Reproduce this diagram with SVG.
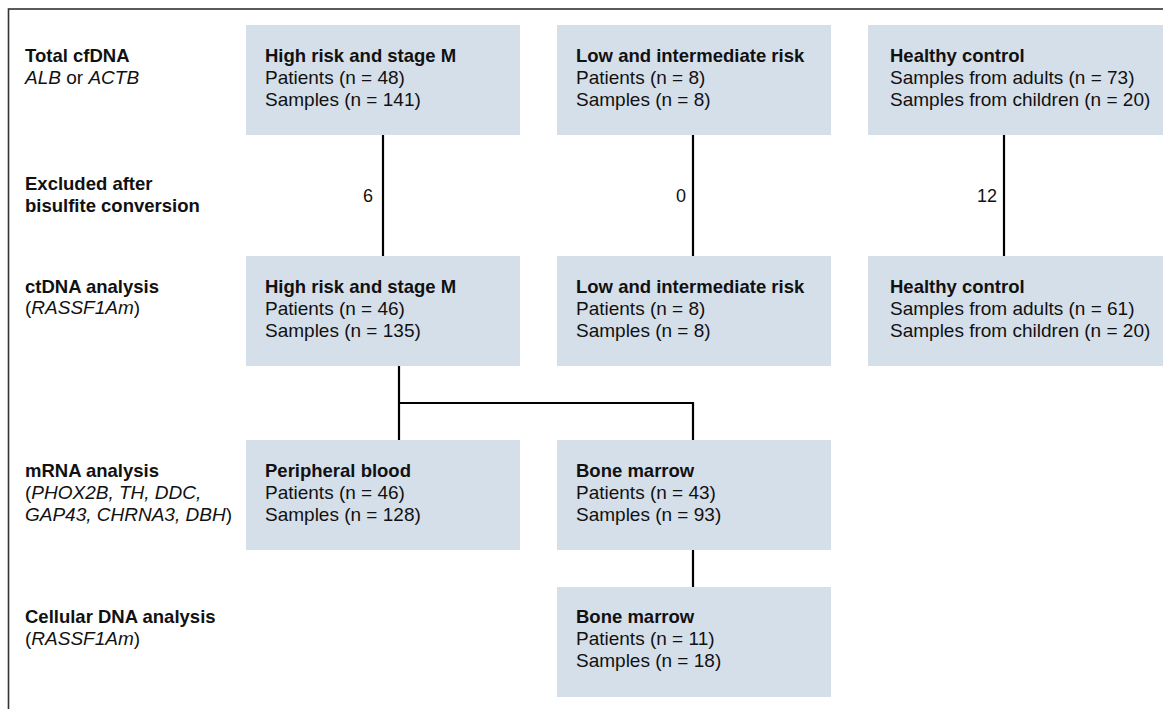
<svg xmlns="http://www.w3.org/2000/svg" width="1163" height="709" viewBox="0 0 1163 709">
<style>
text{font-family:"Liberation Sans",Arial,Helvetica,sans-serif;font-size:19px;fill:#111}
.b{font-weight:bold;font-size:18.5px}
.i{font-style:italic}
.box{fill:#d5dfea}
.con{stroke:#000;stroke-width:2.2;fill:none}
.num{font-size:18px;text-anchor:end}
</style>
<rect x="0" y="0" width="1163" height="709" fill="#fff"/>
<rect x="8.5" y="9" width="1170" height="720" fill="none" stroke="#333" stroke-width="1.6"/>
<g id="labels">
<text x="25" y="62" class="b">Total cfDNA</text>
<text x="25" y="84"><tspan class="i">ALB</tspan> or <tspan class="i">ACTB</tspan></text>
<text x="25" y="190" class="b">Excluded after</text>
<text x="25" y="212" class="b">bisulfite conversion</text>
<text x="25" y="293" class="b">ctDNA analysis</text>
<text x="25" y="314">(<tspan class="i">RASSF1Am</tspan>)</text>
<text x="25" y="477" class="b">mRNA analysis</text>
<text x="25" y="499">(<tspan class="i">PHOX2B, TH, DDC,</tspan></text>
<text x="25" y="521"><tspan class="i">GAP43, CHRNA3, DBH</tspan>)</text>
<text x="25" y="623" class="b">Cellular DNA analysis</text>
<text x="25" y="645">(<tspan class="i">RASSF1Am</tspan>)</text>
</g>
<g id="connectors">
<line class="con" x1="383" y1="135" x2="383" y2="256"/>
<line class="con" x1="693" y1="135" x2="693" y2="256"/>
<line class="con" x1="1004" y1="135" x2="1004" y2="256"/>
<polyline class="con" points="399,366 399,440"/>
<polyline class="con" points="399,403 693,403 693,440"/>
<line class="con" x1="693" y1="550" x2="693" y2="587"/>
<text class="num" x="373" y="202">6</text>
<text class="num" x="686" y="202">0</text>
<text class="num" x="997" y="202">12</text>
</g>
<g id="n1">
<rect class="box" x="246" y="25" width="274" height="110"/>
<text x="265" y="62" class="b">High risk and stage M</text>
<text x="265" y="84">Patients (n = 48)</text>
<text x="265" y="106">Samples (n = 141)</text>
</g>
<g id="n2">
<rect class="box" x="557" y="25" width="274" height="110"/>
<text x="576" y="62" class="b">Low and intermediate risk</text>
<text x="576" y="84">Patients (n = 8)</text>
<text x="576" y="106">Samples (n = 8)</text>
</g>
<g id="n3">
<rect class="box" x="868" y="25" width="300" height="110"/>
<text x="890" y="62" class="b">Healthy control</text>
<text x="890" y="84">Samples from adults (n = 73)</text>
<text x="890" y="106">Samples from children (n = 20)</text>
</g>
<g id="n4">
<rect class="box" x="246" y="256" width="274" height="110"/>
<text x="265" y="293" class="b">High risk and stage M</text>
<text x="265" y="315">Patients (n = 46)</text>
<text x="265" y="337">Samples (n = 135)</text>
</g>
<g id="n5">
<rect class="box" x="557" y="256" width="274" height="110"/>
<text x="576" y="293" class="b">Low and intermediate risk</text>
<text x="576" y="315">Patients (n = 8)</text>
<text x="576" y="337">Samples (n = 8)</text>
</g>
<g id="n6">
<rect class="box" x="868" y="256" width="300" height="110"/>
<text x="890" y="293" class="b">Healthy control</text>
<text x="890" y="315">Samples from adults (n = 61)</text>
<text x="890" y="337">Samples from children (n = 20)</text>
</g>
<g id="n7">
<rect class="box" x="246" y="440" width="274" height="110"/>
<text x="265" y="477" class="b">Peripheral blood</text>
<text x="265" y="499">Patients (n = 46)</text>
<text x="265" y="521">Samples (n = 128)</text>
</g>
<g id="n8">
<rect class="box" x="557" y="440" width="274" height="110"/>
<text x="576" y="477" class="b">Bone marrow</text>
<text x="576" y="499">Patients (n = 43)</text>
<text x="576" y="521">Samples (n = 93)</text>
</g>
<g id="n9">
<rect class="box" x="557" y="587" width="274" height="110"/>
<text x="576" y="623" class="b">Bone marrow</text>
<text x="576" y="645">Patients (n = 11)</text>
<text x="576" y="667">Samples (n = 18)</text>
</g>
</svg>
